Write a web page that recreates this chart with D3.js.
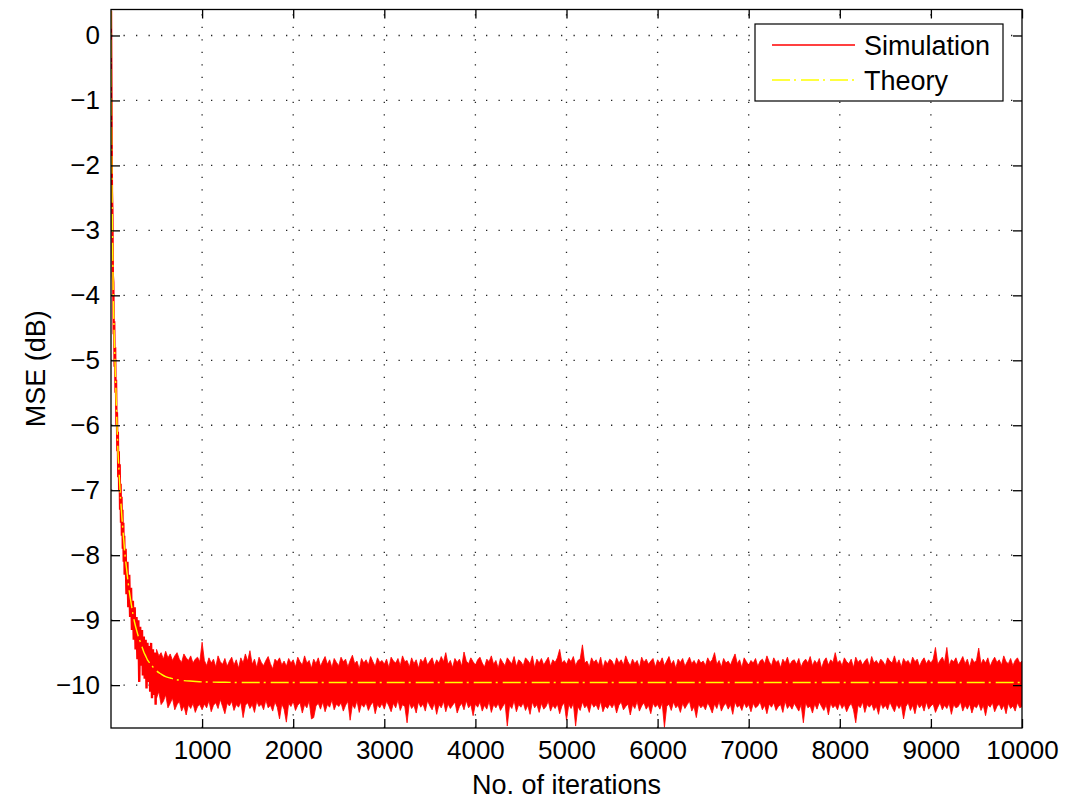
<!DOCTYPE html>
<html>
<head>
<meta charset="utf-8">
<script src="https://cdn.jsdelivr.net/npm/d3@7"></script>
<style>
  html, body { margin: 0; padding: 0; background: #fff; }
  svg { display: block; font-family: "Liberation Sans", Arial, Helvetica, sans-serif; }
</style>
</head>
<body>
<svg id="chart" width="1075" height="805"></svg>
<script>
// ---------------- data ----------------
const xTicks = [1000, 2000, 3000, 4000, 5000, 6000, 7000, 8000, 9000, 10000];
const yTicks = [0, -1, -2, -3, -4, -5, -6, -7, -8, -9, -10];
const xLabel = "No. of iterations";
const yLabel = "MSE (dB)";
const seriesNames = ["Simulation", "Theory"];

// Theory learning curve
const theoryN = [0, 5, 10, 15, 20, 25, 30, 35, 40, 45, 50, 55, 60, 65, 70, 75, 80, 85, 90, 95, 100, 110, 120, 130, 140, 150,
  160, 170, 180, 190, 200, 220, 240, 260, 280, 300, 320, 340, 360, 380, 400, 420, 440, 460, 480, 500, 550, 600, 650, 700,
  800, 900, 1000, 1200, 1500, 2000, 3000, 10000];
const theoryV = [0.38, -1.2, -2.2, -2.9, -3.5, -4.0, -4.35, -4.6, -4.85, -5.05, -5.3, -5.5, -5.75, -5.98, -6.15, -6.33, -6.5, -6.62, -6.75, -6.88, -7.02, -7.22, -7.42, -7.6, -7.77, -7.94,
  -8.08, -8.2, -8.32, -8.44, -8.55, -8.73, -8.9, -9.04, -9.15, -9.25, -9.33, -9.41, -9.49, -9.55, -9.61, -9.65, -9.69, -9.72, -9.75, -9.78, -9.83, -9.87, -9.89, -9.91,
  -9.93, -9.94, -9.95, -9.955, -9.96, -9.96, -9.96, -9.96];

// Simulation, transient part (iteration, dB)
const simN = [0, 5, 10, 15, 20, 25, 30, 35, 40, 45, 50, 55, 60, 65, 70, 75, 80, 85, 90, 95, 100, 105, 110, 115, 120, 125, 130, 135, 140, 145, 150,
  160, 170, 180, 190, 200, 210, 220, 230, 240, 250, 260, 270, 280, 290, 300, 310, 320, 330, 340, 350, 360, 370, 380, 390, 400,
  410, 420, 430, 440, 450, 460, 470, 480, 490, 500];
const simV = [0.38, -1.0, -2.4, -2.7, -3.7, -3.8, -4.6, -4.4, -5.1, -4.8, -5.5, -5.3, -6.0, -5.8, -6.4, -6.1, -6.8, -6.4, -7.0, -6.6, -7.3, -6.9, -7.5, -7.1, -7.7, -7.3, -7.9, -7.5, -8.1, -7.7, -8.3,
  -7.9, -8.6, -8.1, -8.8, -8.3, -8.95, -8.5, -9.15, -8.7, -9.3, -8.8, -9.45, -8.95, -9.6, -9.0, -9.95, -9.1, -9.7, -9.15, -9.85, -9.25, -9.9, -9.3, -10.05, -9.35,
  -9.95, -9.4, -10.1, -9.35, -10.2, -9.45, -10.15, -9.5, -10.3, -9.5];

// Simulation, steady part: upper / lower envelope per 25-iteration window, from iteration 500 to 10000
const bandStart = 500, bandStep = 25;
const simHi = [
  -9.45,-9.55,-9.50,-9.60,-9.48,-9.58,-9.52,-9.62,-9.55,-9.50,-9.60,-9.65,-9.52,-9.58,-9.62,-9.55,-9.66,-9.60,-9.57,-9.64,
  -9.34,-9.62,-9.70,-9.58,-9.66,-9.60,-9.72,-9.55,-9.64,-9.68,-9.59,-9.71,-9.63,-9.57,-9.69,-9.61,-9.74,-9.58,-9.66,-9.52,
  -9.63,-9.47,-9.68,-9.60,-9.73,-9.57,-9.65,-9.70,-9.62,-9.56,-9.67,-9.75,-9.60,-9.64,-9.58,-9.69,-9.63,-9.71,-9.59,-9.66,
  -9.61,-9.72,-9.57,-9.64,-9.69,-9.55,-9.66,-9.62,-9.74,-9.60,-9.67,-9.58,-9.71,-9.63,-9.56,-9.68,-9.61,-9.73,-9.59,-9.65,
  -9.70,-9.57,-9.64,-9.60,-9.72,-9.62,-9.54,-9.67,-9.63,-9.75,-9.59,-9.66,-9.61,-9.69,-9.56,-9.64,-9.71,-9.58,-9.65,-9.62,
  -9.68,-9.60,-9.73,-9.57,-9.63,-9.66,-9.59,-9.70,-9.55,-9.64,-9.62,-9.72,-9.58,-9.67,-9.61,-9.74,-9.60,-9.65,-9.57,-9.69,
  -9.63,-9.58,-9.70,-9.61,-9.66,-9.56,-9.64,-9.50,-9.68,-9.62,-9.73,-9.59,-9.65,-9.60,-9.71,-9.49,-9.63,-9.67,-9.58,-9.64,
  -9.69,-9.61,-9.57,-9.66,-9.72,-9.60,-9.64,-9.55,-9.68,-9.62,-9.74,-9.59,-9.65,-9.70,-9.58,-9.63,-9.67,-9.56,-9.71,-9.61,
  -9.64,-9.70,-9.58,-9.62,-9.67,-9.55,-9.73,-9.60,-9.66,-9.59,-9.69,-9.63,-9.57,-9.71,-9.61,-9.65,-9.58,-9.45,-9.66,-9.62,
  -9.68,-9.59,-9.64,-9.56,-9.70,-9.62,-9.60,-9.38,-9.66,-9.63,-9.72,-9.58,-9.65,-9.61,-9.69,-9.57,-9.74,-9.62,-9.67,-9.60,
  -9.63,-9.71,-9.58,-9.66,-9.61,-9.69,-9.55,-9.64,-9.70,-9.60,-9.67,-9.62,-9.73,-9.57,-9.65,-9.60,-9.68,-9.63,-9.59,-9.72,
  -9.61,-9.66,-9.58,-9.70,-9.63,-9.56,-9.68,-9.62,-9.74,-9.60,-9.65,-9.59,-9.71,-9.64,-9.57,-9.67,-9.62,-9.69,-9.60,-9.66,
  -9.63,-9.70,-9.58,-9.65,-9.61,-9.50,-9.68,-9.62,-9.72,-9.59,-9.66,-9.63,-9.69,-9.60,-9.52,-9.67,-9.61,-9.73,-9.58,-9.64,
  -9.69,-9.62,-9.66,-9.59,-9.71,-9.63,-9.60,-9.67,-9.55,-9.64,-9.70,-9.58,-9.65,-9.62,-9.73,-9.60,-9.66,-9.57,-9.69,-9.63,
  -9.61,-9.68,-9.59,-9.72,-9.64,-9.60,-9.66,-9.56,-9.70,-9.62,-9.67,-9.59,-9.74,-9.63,-9.58,-9.69,-9.61,-9.65,-9.50,-9.66,
  -9.62,-9.70,-9.58,-9.64,-9.67,-9.60,-9.73,-9.57,-9.65,-9.61,-9.69,-9.63,-9.59,-9.71,-9.56,-9.66,-9.62,-9.68,-9.60,-9.64,
  -9.70,-9.58,-9.63,-9.66,-9.55,-9.68,-9.61,-9.72,-9.59,-9.65,-9.62,-9.69,-9.57,-9.64,-9.60,-9.71,-9.63,-9.58,-9.67,-9.61,
  -9.66,-9.60,-9.42,-9.68,-9.62,-9.57,-9.65,-9.42,-9.70,-9.61,-9.64,-9.58,-9.69,-9.63,-9.56,-9.67,-9.60,-9.72,-9.59,-9.65,
  -9.62,-9.43,-9.68,-9.60,-9.66,-9.58,-9.71,-9.63,-9.57,-9.65,-9.61,-9.69,-9.55,-9.64,-9.67,-9.59,-9.70,-9.62,-9.58,-9.66,
  -9.63];
const simLo = [
  -10.20,-10.10,-10.30,-10.25,-10.15,-10.35,-10.28,-10.20,-10.38,-10.30,-10.25,-10.40,-10.32,-10.46,-10.30,-10.36,-10.28,-10.42,-10.33,-10.30,
  -10.38,-10.29,-10.35,-10.24,-10.41,-10.31,-10.27,-10.36,-10.22,-10.33,-10.44,-10.28,-10.32,-10.25,-10.39,-10.30,-10.34,-10.26,-10.50,-10.31,
  -10.27,-10.36,-10.30,-10.42,-10.25,-10.33,-10.29,-10.38,-10.23,-10.35,-10.31,-10.40,-10.26,-10.34,-10.52,-10.29,-10.37,-10.57,-10.28,-10.33,
  -10.25,-10.39,-10.31,-10.27,-10.43,-10.30,-10.35,-10.24,-10.52,-10.50,-10.32,-10.28,-10.37,-10.26,-10.41,-10.30,-10.34,-10.23,-10.38,-10.29,
  -10.33,-10.27,-10.40,-10.31,-10.25,-10.54,-10.30,-10.36,-10.24,-10.42,-10.29,-10.34,-10.27,-10.39,-10.31,-10.26,-10.44,-10.30,-10.35,-10.28,
  -10.37,-10.25,-10.32,-10.41,-10.28,-10.35,-10.23,-10.39,-10.30,-10.33,-10.58,-10.27,-10.36,-10.31,-10.43,-10.26,-10.34,-10.29,-10.40,-10.24,
  -10.32,-10.38,-10.27,-10.45,-10.30,-10.35,-10.25,-10.41,-10.29,-10.36,-10.31,-10.26,-10.43,-10.33,-10.28,-10.38,-10.24,-10.35,-10.30,-10.47,
  -10.29,-10.34,-10.26,-10.40,-10.31,-10.37,-10.25,-10.42,-10.30,-10.35,-10.28,-10.39,-10.33,-10.27,-10.63,-10.31,-10.36,-10.24,-10.41,-10.30,
  -10.34,-10.27,-10.39,-10.31,-10.45,-10.26,-10.35,-10.30,-10.42,-10.28,-10.37,-10.33,-10.25,-10.40,-10.31,-10.36,-10.29,-10.44,-10.32,-10.27,
  -10.54,-10.30,-10.36,-10.28,-10.63,-10.33,-10.39,-10.26,-10.35,-10.31,-10.42,-10.27,-10.34,-10.30,-10.38,-10.25,-10.41,-10.32,-10.36,-10.29,
  -10.35,-10.28,-10.43,-10.31,-10.26,-10.38,-10.33,-10.29,-10.46,-10.30,-10.36,-10.25,-10.40,-10.32,-10.27,-10.37,-10.31,-10.44,-10.28,-10.34,
  -10.30,-10.37,-10.27,-10.65,-10.33,-10.29,-10.39,-10.26,-10.35,-10.31,-10.42,-10.28,-10.36,-10.30,-10.25,-10.40,-10.33,-10.50,-10.29,-10.35,
  -10.31,-10.38,-10.27,-10.34,-10.43,-10.29,-10.36,-10.25,-10.40,-10.32,-10.28,-10.37,-10.30,-10.45,-10.26,-10.34,-10.31,-10.39,-10.27,-10.35,
  -10.30,-10.41,-10.28,-10.35,-10.32,-10.26,-10.38,-10.31,-10.44,-10.29,-10.34,-10.27,-10.39,-10.33,-10.30,-10.42,-10.25,-10.36,-10.31,-10.37,
  -10.28,-10.34,-10.40,-10.30,-10.58,-10.27,-10.35,-10.32,-10.43,-10.29,-10.37,-10.26,-10.33,-10.39,-10.30,-10.46,-10.28,-10.35,-10.31,-10.38,
  -10.27,-10.36,-10.30,-10.41,-10.33,-10.28,-10.38,-10.58,-10.31,-10.35,-10.26,-10.42,-10.30,-10.34,-10.29,-10.39,-10.32,-10.45,-10.27,-10.36,
  -10.31,-10.38,-10.26,-10.34,-10.41,-10.29,-10.36,-10.30,-10.52,-10.33,-10.27,-10.39,-10.31,-10.44,-10.28,-10.35,-10.30,-10.40,-10.26,-10.37,
  -10.32,-10.29,-10.42,-10.34,-10.27,-10.38,-10.31,-10.36,-10.28,-10.45,-10.30,-10.35,-10.33,-10.26,-10.40,-10.31,-10.37,-10.29,-10.43,-10.32,
  -10.35,-10.28,-10.39,-10.31,-10.47,-10.30,-10.34,-10.27,-10.41,-10.33,-10.29,-10.38,-10.31,-10.44,-10.28,-10.36,-10.32,-10.40,-10.27,-10.35,
  -10.33];

// ---------------- chart ----------------
const svg = d3.select("#chart");
const W = 1075, H = 805;
const plot = { left: 111, top: 9.5, right: 1022, bottom: 728 };

const x = d3.scaleLinear().domain([0, 10000]).range([plot.left, plot.right]);
const y = d3.scaleLinear().domain([-10.66, 0.40]).range([plot.bottom, plot.top]);

svg.append("rect").attr("width", W).attr("height", H).attr("fill", "#fff");

svg.append("defs").append("clipPath").attr("id", "clip")
  .append("rect").attr("x", plot.left).attr("y", plot.top)
  .attr("width", plot.right - plot.left).attr("height", plot.bottom - plot.top);

// grid
const grid = svg.append("g").attr("stroke", "#222").attr("stroke-width", 1.3)
  .attr("stroke-dasharray", "1.3,11.2");
grid.selectAll(".vg").data(xTicks.filter(d => d < 10000)).join("line")
  .attr("x1", d => x(d)).attr("x2", d => x(d))
  .attr("y1", plot.bottom).attr("y2", plot.top);
grid.selectAll(".hg").data(yTicks).join("line")
  .attr("y1", d => y(d)).attr("y2", d => y(d))
  .attr("x1", plot.left).attr("x2", plot.right);

// data
const dataG = svg.append("g").attr("clip-path", "url(#clip)");
const bandData = simHi.map((h, i) => ({ n: bandStart + i * bandStep, hi: h, lo: simLo[i] }));
dataG.append("path").datum(bandData)
  .attr("d", d3.area().x(d => x(d.n)).y0(d => y(d.lo)).y1(d => y(d.hi)))
  .attr("fill", "#ff0000").attr("stroke", "#ff0000").attr("stroke-width", 0.8);

const simData = simN.map((n, i) => ({ n, v: simV[i] }));
dataG.append("path").datum(simData)
  .attr("d", d3.line().x(d => x(d.n)).y(d => y(d.v)))
  .attr("fill", "none").attr("stroke", "#ff0000").attr("stroke-width", 2.4);

const theoryData = theoryN.map((n, i) => ({ n, v: theoryV[i] }));
dataG.append("path").datum(theoryData)
  .attr("d", d3.line().curve(d3.curveMonotoneX).x(d => x(d.n)).y(d => y(d.v)))
  .attr("fill", "none").attr("stroke", "#ffff00").attr("stroke-width", 1.4)
  .attr("stroke-dasharray", "18,4,2,5");

// axes
const fontTick = 26;
const xAxis = svg.append("g").attr("transform", `translate(0,${plot.bottom})`)
  .call(d3.axisBottom(x).tickValues(xTicks).tickSize(-9).tickPadding(13).tickFormat(d3.format("d")));
const xAxisTop = svg.append("g").attr("transform", `translate(0,${plot.top})`)
  .call(d3.axisTop(x).tickValues(xTicks).tickSize(-9).tickFormat(""));
const yAxis = svg.append("g").attr("transform", `translate(${plot.left},0)`)
  .call(d3.axisLeft(y).tickValues(yTicks).tickSize(-9).tickPadding(11).tickFormat(d3.format("d")));
const yAxisR = svg.append("g").attr("transform", `translate(${plot.right},0)`)
  .call(d3.axisRight(y).tickValues(yTicks).tickSize(-9).tickFormat(""));
[xAxis, xAxisTop, yAxis, yAxisR].forEach(g => {
  g.select(".domain").remove();
  g.selectAll(".tick line").attr("stroke", "#000").attr("stroke-width", 1.3);
  g.selectAll("text").attr("fill", "#000").attr("font-size", fontTick)
    .attr("font-family", '"Liberation Sans", Arial, sans-serif');
});

// frame
svg.append("rect").attr("x", plot.left).attr("y", plot.top)
  .attr("width", plot.right - plot.left).attr("height", plot.bottom - plot.top)
  .attr("fill", "none").attr("stroke", "#000").attr("stroke-width", 1.3);

// axis labels
svg.append("text").attr("x", (plot.left + plot.right) / 2).attr("y", 794)
  .attr("text-anchor", "middle").attr("font-size", 27).attr("fill", "#000").text(xLabel);
svg.append("text").attr("transform", `translate(45,${(plot.top + plot.bottom) / 2}) rotate(-90)`)
  .attr("text-anchor", "middle").attr("font-size", 27).attr("fill", "#000").text(yLabel);

// legend
const lg = svg.append("g");
lg.append("rect").attr("x", 755).attr("y", 24).attr("width", 248).attr("height", 77)
  .attr("fill", "#fff").attr("stroke", "#000").attr("stroke-width", 1.2);
const legendRows = [
  { name: seriesNames[0], color: "#ff0000", dash: null, yy: 45 },
  { name: seriesNames[1], color: "#ffff00", dash: "18,4,2,5", yy: 80 }
];
legendRows.forEach(r => {
  lg.append("line").attr("x1", 772).attr("x2", 855).attr("y1", r.yy).attr("y2", r.yy)
    .attr("stroke", r.color).attr("stroke-width", 1.3).attr("stroke-dasharray", r.dash);
  lg.append("text").attr("x", 864).attr("y", r.yy + 10).attr("font-size", 27)
    .attr("fill", "#000").text(r.name);
});
</script>
</body>
</html>
